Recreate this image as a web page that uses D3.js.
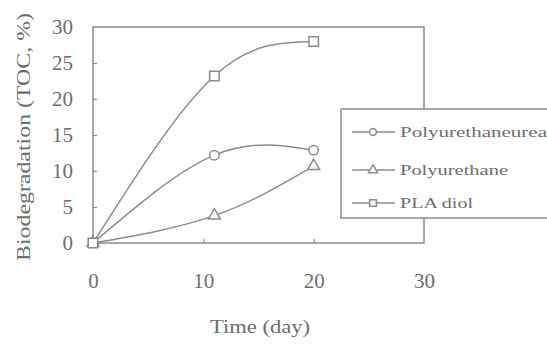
<!DOCTYPE html>
<html>
<head>
<meta charset="utf-8">
<script src="https://cdn.jsdelivr.net/npm/d3@7"></script>
<style>
  html, body { margin: 0; padding: 0; background: #fff; }
  svg { display: block; }
  text { font-family: "Times New Roman", "Liberation Serif", Times, serif; fill: #6e6e6e; }
</style>
</head>
<body>
<svg id="chart" width="547" height="346"></svg>
<script>
// Sampling days and measured biodegradation (TOC, %)
const days = [0, 11, 20];
const seriesNames = ["Polyurethaneurea", "Polyurethane", "PLA diol"];
const polyurethaneurea = [0, 12.2, 12.9];
const polyurethane = [0, 3.8, 10.7];
const plaDiol = [0, 23.2, 28.0];
const xTicks = [0, 10, 20, 30];
const yTicks = [0, 5, 10, 15, 20, 25, 30];

const series = [
  { name: seriesNames[0], values: polyurethaneurea, symbol: "circle" },
  { name: seriesNames[1], values: polyurethane, symbol: "triangle" },
  { name: seriesNames[2], values: plaDiol, symbol: "square" }
];

const ink = "#8c8c8c";
const serif = "'Times New Roman', 'Liberation Serif', Times, serif";
const svg = d3.select("#chart");
const m = { left: 93, right: 424, top: 27, bottom: 243 };

const x = d3.scaleLinear().domain([0, 30]).range([m.left, m.right]);
const y = d3.scaleLinear().domain([0, 30]).range([m.bottom, m.top]);

// Frame
svg.append("rect")
  .attr("x", m.left).attr("y", m.top)
  .attr("width", m.right - m.left).attr("height", m.bottom - m.top)
  .attr("fill", "none").attr("stroke", ink).attr("stroke-width", 1.5);

// Left axis: inward ticks, labels outside
const yAxis = d3.axisLeft(y).tickValues(yTicks).tickSize(-4).tickPadding(20).tickFormat(d3.format("d"));
const gy = svg.append("g").attr("transform", `translate(${m.left},0)`).call(yAxis);
gy.select(".domain").remove();
gy.selectAll(".tick line").attr("stroke", ink).attr("stroke-width", 1.2)
  .filter(d => d === 0 || d === 30).remove();
gy.selectAll(".tick text").attr("font-size", 21).attr("fill", "#707070")
  .style("font-family", serif);

// Bottom axis: inward ticks, labels below
const xAxis = d3.axisBottom(x).tickValues(xTicks).tickSize(-4).tickPadding(30).tickFormat(d3.format("d"));
const gx = svg.append("g").attr("transform", `translate(0,${m.bottom})`).call(xAxis);
gx.select(".domain").remove();
gx.selectAll(".tick line").attr("stroke", ink).attr("stroke-width", 1.2)
  .filter(d => d === 0 || d === 30).remove();
gx.selectAll(".tick text").attr("font-size", 21).attr("fill", "#707070")
  .style("font-family", serif);

// Axis titles
svg.append("text")
  .attr("x", 260).attr("y", 333)
  .attr("text-anchor", "middle")
  .attr("font-size", 19)
  .attr("textLength", 100).attr("lengthAdjust", "spacingAndGlyphs")
  .text("Time (day)");

svg.append("text")
  .attr("transform", "translate(30,137) rotate(-90)")
  .attr("text-anchor", "middle")
  .attr("font-size", 19)
  .attr("textLength", 248).attr("lengthAdjust", "spacingAndGlyphs")
  .text("Biodegradation (TOC, %)");

// Curves
const line = d3.line()
  .x((d, i) => x(days[i]))
  .y(d => y(d))
  .curve(d3.curveNatural);

svg.append("g").selectAll("path").data(series).join("path")
  .attr("d", s => line(s.values))
  .attr("fill", "none").attr("stroke", ink).attr("stroke-width", 1.5);

// Marker shapes
function marker(sel, type, size) {
  const sym = { circle: d3.symbolCircle, triangle: d3.symbolTriangle, square: d3.symbolSquare }[type];
  sel.append("path")
    .attr("d", d3.symbol().type(sym).size(size))
    .attr("fill", "#fff").attr("stroke", ink).attr("stroke-width", 1.5);
}
const markerSize = { circle: 70, triangle: 62, square: 90 };

series.forEach(s => {
  s.values.forEach((v, i) => {
    const g = svg.append("g").attr("transform", `translate(${x(days[i])},${y(v)})`);
    marker(g, s.symbol, markerSize[s.symbol]);
  });
});

// Legend
const lg = svg.append("g");
lg.append("rect")
  .attr("x", 341).attr("y", 109).attr("width", 230).attr("height", 109)
  .attr("fill", "#fff").attr("stroke", ink).attr("stroke-width", 1.5);

const legendRows = [132, 170, 203];
const legendWidths = [147, 108, 73];
series.forEach((s, i) => {
  const ry = legendRows[i];
  lg.append("line")
    .attr("x1", 352).attr("x2", 395).attr("y1", ry).attr("y2", ry)
    .attr("stroke", ink).attr("stroke-width", 1.5);
  const g = lg.append("g").attr("transform", `translate(373,${ry})`);
  marker(g, s.symbol, s.symbol === "square" ? 45 : 36);
  lg.append("text")
    .attr("x", 400).attr("y", ry + 5)
    .attr("font-size", 14)
    .attr("textLength", legendWidths[i]).attr("lengthAdjust", "spacingAndGlyphs")
    .text(s.name);
});
</script>
</body>
</html>
